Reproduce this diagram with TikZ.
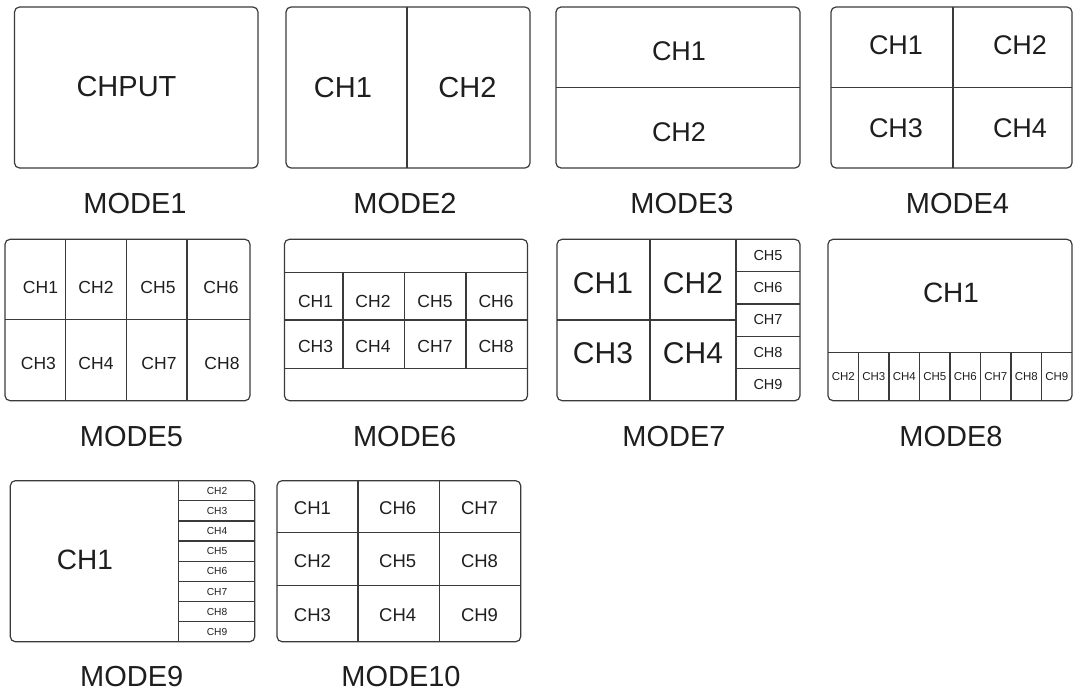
\documentclass[tikz,border=0pt]{standalone}
\usepackage{fontspec}
\setmainfont{Liberation Sans}
\definecolor{linecol}{HTML}{3A3A3A}
\definecolor{txtcol}{HTML}{1E1E1E}
\newcommand{\fs}[1]{\fontsize{#1pt}{#1pt}\selectfont}
\tikzset{
  scr/.style={draw=linecol, line width=1.2pt, rounded corners=5pt},
  div/.style={draw=linecol, line width=1.2pt},
  txt/.style={inner sep=0pt, text=txtcol},
  lab/.style={txt, font=\fs{29}},
  big/.style={txt, font=\fs{29}},
  mid/.style={txt, font=\fs{27}},
  med/.style={txt, font=\fs{17.5}},
  sml/.style={txt, font=\fs{14.5}},
  tiny/.style={txt, font=\fs{11.5}},
  tinier/.style={txt, font=\fs{10.2}}
}
\begin{document}
\begin{tikzpicture}[x=1pt,y=-1pt]
\useasboundingbox (0,0) rectangle (1074,693);
% ---------- Row 1 ----------
% MODE1
\draw[scr] (14.5,7) rectangle (258,168);
\node[big] (m1a) at (126.5,87) {CHPUT};
\node[lab] (m1) at (135,203.5) {MODE1};
% MODE2
\draw[scr] (286,7) rectangle (530,168);
\draw[div] (407,7) -- (407,168);
\node[big] (m2a) at (343,88) {CH1};
\node[big] (m2b) at (467.5,88) {CH2};
\node[lab] (m2) at (405,203.5) {MODE2};
% MODE3
\draw[scr] (556,7) rectangle (800,168);
\draw[div] (556,87.3) -- (800,87.3);
\node[mid] (m3a) at (679,51) {CH1};
\node[mid] (m3b) at (679,132) {CH2};
\node[lab] (m3) at (682,203.5) {MODE3};
% MODE4
\draw[scr] (831,7) rectangle (1072,168);
\draw[div] (953,7) -- (953,168);
\draw[div] (831,87.3) -- (1072,87.3);
\node[mid] (m4a) at (896,45) {CH1};
\node[mid] (m4b) at (1020,45) {CH2};
\node[mid] (m4c) at (896,128) {CH3};
\node[mid] (m4d) at (1020,128) {CH4};
\node[lab] (m4) at (957.5,203.5) {MODE4};
% ---------- Row 2 ----------
% MODE5
\draw[scr] (5,239.3) rectangle (250,400.7);
\draw[div] (5,319.3) -- (250,319.3);
\foreach \x in {65.4,126.4,187} \draw[div] (\x,239.3) -- (\x,400.7);
\node[med] (m5a) at (40.5,287) {CH1};
\node[med] (m5b) at (96,287) {CH2};
\node[med] (m5c) at (158,287) {CH5};
\node[med] (m5d) at (221,287) {CH6};
\node[med] (m5e) at (38.4,363.3) {CH3};
\node[med] (m5f) at (96,363.3) {CH4};
\node[med] (m5g) at (159,363.3) {CH7};
\node[med] (m5h) at (222,363.3) {CH8};
\node[lab] (m5) at (131.5,436.5) {MODE5};
% MODE6
\draw[scr] (284.4,239.3) rectangle (527.5,400.7);
\foreach \y in {272.7,320,368.3} \draw[div] (284.4,\y) -- (527.5,\y);
\foreach \x in {343,404.6,466} \draw[div] (\x,272.7) -- (\x,368.3);
\node[med] (m6a) at (315.6,301) {CH1};
\node[med] (m6b) at (373,301) {CH2};
\node[med] (m6c) at (435,301) {CH5};
\node[med] (m6d) at (496,301) {CH6};
\node[med] (m6e) at (315.6,346.7) {CH3};
\node[med] (m6f) at (373,346.7) {CH4};
\node[med] (m6g) at (435,346.7) {CH7};
\node[med] (m6h) at (496,346.7) {CH8};
\node[lab] (m6) at (404.6,436.5) {MODE6};
% MODE7
\draw[scr] (557,239.3) rectangle (800,400.7);
\draw[div] (650,239.3) -- (650,400.7);
\draw[div] (736,239.3) -- (736,400.7);
\draw[div] (557,320) -- (736,320);
\foreach \y in {271.6,303.9,336.1,368.4} \draw[div] (736,\y) -- (800,\y);
\node[txt,font=\fs{30}] (m7a) at (603,283.3) {CH1};
\node[txt,font=\fs{30}] (m7b) at (693,283.3) {CH2};
\node[txt,font=\fs{30}] (m7c) at (603,353.3) {CH3};
\node[txt,font=\fs{30}] (m7d) at (693,353.3) {CH4};
\node[sml] (m7e) at (768,255.5) {CH5};
\node[sml] (m7f) at (768,287.7) {CH6};
\node[sml] (m7g) at (768,320) {CH7};
\node[sml] (m7h) at (768,352.2) {CH8};
\node[sml] (m7i) at (768,384.5) {CH9};
\node[lab] (m7) at (674,436.5) {MODE7};
% MODE8
\draw[scr] (828,239.3) rectangle (1072,400.7);
\draw[div] (828,352.7) -- (1072,352.7);
\foreach \i in {1,...,7} \draw[div] (828+30.5*\i,352.7) -- (828+30.5*\i,400.7);
\node[txt,font=\fs{28}] (m8a) at (951,293.3) {CH1};
\foreach \i/\c in {0/2,1/3,2/4,3/5,4/6,5/7,6/8,7/9}
  \node[tiny] (m8c\c) at (843.25+30.5*\i,376.2) {CH\c};
\node[lab] (m8) at (951,436.5) {MODE8};
% ---------- Row 3 ----------
% MODE9
\draw[scr] (10.3,480.7) rectangle (254.8,641.7);
\draw[div] (178.4,480.7) -- (178.4,641.7);
\foreach \i in {1,...,7} \draw[div] (178.4,480.7+20.125*\i) -- (254.8,480.7+20.125*\i);
\node[txt,font=\fs{28}] (m9a) at (85,560) {CH1};
\foreach \i/\c in {0/2,1/3,2/4,3/5,4/6,5/7,6/8,7/9}
  \node[tinier] (m9c\c) at (217,490.9+20.125*\i) {CH\c};
\node[lab] (m9) at (131.7,676.5) {MODE9};
% MODE10
\draw[scr] (277,480.7) rectangle (520.7,641.7);
\draw[div] (358,480.7) -- (358,641.7);
\draw[div] (439.7,480.7) -- (439.7,641.7);
\draw[div] (277,532.3) -- (520.7,532.3);
\draw[div] (277,585.7) -- (520.7,585.7);
\node[txt,font=\fs{18.5}] (ma) at (312.5,508.3) {CH1};
\node[txt,font=\fs{18.5}] (mb) at (397.7,508.3) {CH6};
\node[txt,font=\fs{18.5}] (mc) at (479.5,508.3) {CH7};
\node[txt,font=\fs{18.5}] (md) at (312.5,561) {CH2};
\node[txt,font=\fs{18.5}] (me) at (397.7,561) {CH5};
\node[txt,font=\fs{18.5}] (mf) at (479.5,561) {CH8};
\node[txt,font=\fs{18.5}] (mg) at (312.5,615) {CH3};
\node[txt,font=\fs{18.5}] (mh) at (397.7,615) {CH4};
\node[txt,font=\fs{18.5}] (mi) at (479.5,615) {CH9};
\node[lab] (m10) at (401,676.5) {MODE10};
\end{tikzpicture}
\end{document}
